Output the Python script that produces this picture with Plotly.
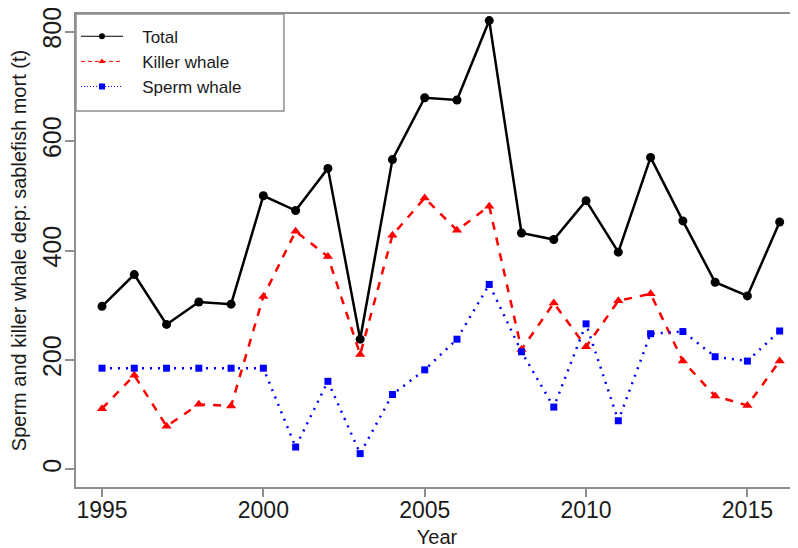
import plotly.graph_objects as go

years = list(range(1995, 2017))
total = [298, 356, 265, 306, 302, 500, 473, 550, 238, 566, 679, 675, 820, 432,
         420, 491, 397, 570, 454, 342, 317, 452]
killer = [111, 172, 79, 119, 116, 316, 435, 389, 210, 428, 496, 437, 481, 219,
          304, 224, 308, 321, 198, 134, 117, 198]
sperm = [185, 185, 185, 185, 185, 185, 41, 161, 29, 137, 182, 238, 338, 215,
         114, 266, 89, 248, 252, 206, 198, 253]
x_ticks = [1995, 2000, 2005, 2010, 2015]
y_ticks = [0, 200, 400, 600, 800]
series_names = ["Total", "Killer whale", "Sperm whale"]

NARROW = "Liberation Sans Narrow, Arial Narrow, sans-serif"
REG = "Liberation Sans, Arial, sans-serif"
GREY = "#8f8f8f"
PAD = "\u00a0" * 3

fig = go.Figure()

styles = [
    dict(color="black", dash="solid", symbol="circle", size=9),
    dict(color="#ff0000", dash="8px,8px", symbol="triangle-up", size=9),
    dict(color="#0000ff", dash="2px,6px", symbol="square", size=7),
]
data = [total, killer, sperm]

for name, vals, st in zip(series_names, data, styles):
    fig.add_trace(go.Scatter(
        x=years, y=vals, mode="lines+markers", name=name, showlegend=False,
        line=dict(color=st["color"], width=2.5, dash=st["dash"]),
        marker=dict(color=st["color"], symbol=st["symbol"], size=st["size"]),
    ))

leg_dash = ["solid", "4px,3px", "1px,2px"]
for name, st, d in zip(series_names, styles, leg_dash):
    fig.add_trace(go.Scatter(
        x=[None], y=[None], mode="lines+markers", name=PAD + name, legendgroup=name,
        line=dict(color=st["color"], width=1, dash=d),
        marker=dict(color=st["color"], symbol=st["symbol"], size=6),
    ))

fig.add_shape(type="rect", xref="paper", yref="paper", x0=0, x1=0.288, y0=0.795, y1=1,
              line=dict(color=GREY, width=1.5), fillcolor="white", layer="below")

fig.update_layout(
    width=790, height=540,
    margin=dict(l=68, r=0, t=6, b=61),
    paper_bgcolor="white", plot_bgcolor="white",
    showlegend=True,
    legend=dict(x=0.0, y=0.99, xanchor="left", yanchor="top",
                bgcolor="rgba(0,0,0,0)", borderwidth=0,
                font=dict(family=NARROW, size=17, color="#1a1a1a"),
                tracegroupgap=0, itemwidth=42),
    xaxis=dict(range=[1994.194, 2016.568], tickvals=x_ticks, showgrid=False, zeroline=False,
               showline=True, mirror=True, linecolor=GREY, linewidth=1.5,
               ticks="outside", ticklen=8, tickcolor=GREY, tickwidth=1.5,
               ticklabelstandoff=-6, ticklabeloverflow="allow",
               tickfont=dict(family=NARROW, size=23, color="#1a1a1a"),
               title=dict(text="Year", font=dict(family=NARROW, size=20, color="#1a1a1a"), standoff=8),
               automargin=False),
    yaxis=dict(range=[-32, 832], tickvals=y_ticks, showgrid=False, zeroline=False,
               showline=True, linecolor=GREY, linewidth=1.5,
               ticks="outside", ticklen=9, tickcolor=GREY, tickwidth=1.5, tickangle=-90,
               ticklabelstandoff=-6, ticklabeloverflow="allow",
               tickfont=dict(family=REG, size=25, color="#1a1a1a"),
               title=dict(text="Sperm and killer whale dep: sablefish mort (t)",
                          font=dict(family=REG, size=20, color="#1a1a1a"), standoff=10),
               automargin=False),
)

fig.write_html("out.html")
